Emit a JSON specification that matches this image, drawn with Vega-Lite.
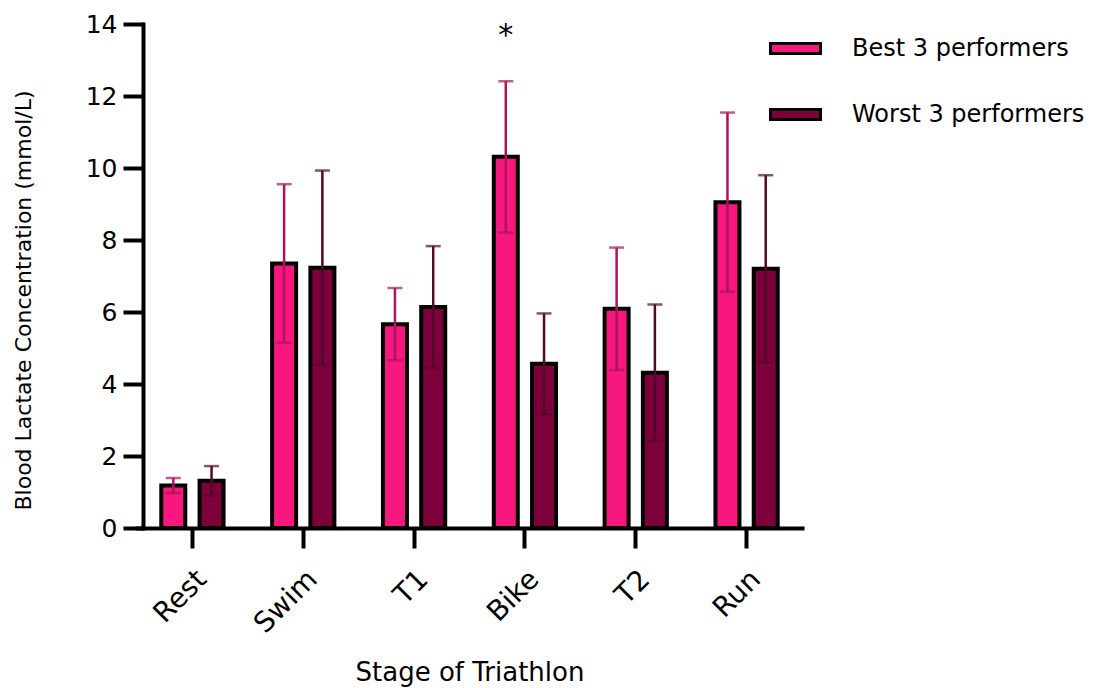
{
  "$schema": "https://vega.github.io/schema/vega-lite/v6.json",
  "autosize": {"type": "none"},
  "width": 655,
  "height": 504,
  "padding": {"left": 143, "top": 24, "right": 296, "bottom": 160},
  "background": "white",
  "config": {
    "font": "DejaVu Sans",
    "view": {"stroke": null},
    "axis": {
      "domainColor": "black",
      "domainWidth": 4,
      "domainCap": "square",
      "tickColor": "black",
      "tickWidth": 4,
      "tickSize": 20,
      "labelColor": "black",
      "labelFontSize": 25,
      "titleColor": "black",
      "titleFontWeight": "normal",
      "grid": false
    }
  },
  "datasets": {
    "lactate": [
      {"stage": "Rest", "group": "Best 3 performers", "mean": 1.18, "lo": 0.97, "hi": 1.39},
      {"stage": "Rest", "group": "Worst 3 performers", "mean": 1.31, "lo": 0.91, "hi": 1.72},
      {"stage": "Swim", "group": "Best 3 performers", "mean": 7.35, "lo": 5.15, "hi": 9.55},
      {"stage": "Swim", "group": "Worst 3 performers", "mean": 7.23, "lo": 4.54, "hi": 9.93},
      {"stage": "T1", "group": "Best 3 performers", "mean": 5.66, "lo": 4.66, "hi": 6.67},
      {"stage": "T1", "group": "Worst 3 performers", "mean": 6.14, "lo": 4.44, "hi": 7.83},
      {"stage": "Bike", "group": "Best 3 performers", "mean": 10.31, "lo": 8.21, "hi": 12.41},
      {"stage": "Bike", "group": "Worst 3 performers", "mean": 4.56, "lo": 3.16, "hi": 5.96},
      {"stage": "T2", "group": "Best 3 performers", "mean": 6.09, "lo": 4.39, "hi": 7.79},
      {"stage": "T2", "group": "Worst 3 performers", "mean": 4.31, "lo": 2.42, "hi": 6.21},
      {"stage": "Run", "group": "Best 3 performers", "mean": 9.05, "lo": 6.56, "hi": 11.54},
      {"stage": "Run", "group": "Worst 3 performers", "mean": 7.2, "lo": 4.6, "hi": 9.8}
    ],
    "significance": [
      {"stage": "Bike", "group": "Best 3 performers", "level": 13.42, "label": "*"}
    ]
  },
  "layer": [
    {
      "data": {"name": "lactate"},
      "mark": {"type": "bar", "width": 24, "stroke": "black", "strokeWidth": 4},
      "encoding": {
        "x": {
          "field": "stage",
          "type": "nominal",
          "sort": ["Rest", "Swim", "T1", "Bike", "T2", "Run"],
          "scale": {"range": [-6, 659], "paddingInner": 0, "paddingOuter": 0},
          "axis": {
            "title": "Stage of Triathlon",
            "titleFontSize": 26,
            "titleY": 144,
            "titleBaseline": "middle",
            "labelAngle": -45,
            "labelFontSize": 28,
            "labelPadding": 17
          }
        },
        "xOffset": {
          "field": "group",
          "type": "nominal",
          "scale": {
            "domain": ["Best 3 performers", "Worst 3 performers"],
            "paddingInner": 0.368,
            "paddingOuter": 0.632
          }
        },
        "y": {
          "field": "mean",
          "type": "quantitative",
          "scale": {"domain": [0, 14], "nice": false},
          "axis": {
            "title": "Blood Lactate Concentration (mmol/L)",
            "titleFontSize": 22,
            "titleAngle": -90,
            "titleAlign": "center",
            "titleBaseline": "middle",
            "titleX": -120,
            "titleY": 276,
            "values": [0, 2, 4, 6, 8, 10, 12, 14],
            "labelPadding": 6
          }
        },
        "fill": {
          "field": "group",
          "type": "nominal",
          "scale": {
            "domain": ["Best 3 performers", "Worst 3 performers"],
            "range": ["#F7177F", "#7D003C"]
          },
          "legend": {
            "orient": "none",
            "legendX": 626,
            "legendY": -2,
            "title": null,
            "symbolType": "M-1,-0.2H1V0.2H-1Z",
            "symbolSize": 2500,
            "symbolStrokeColor": "black",
            "symbolStrokeWidth": 3,
            "symbolOpacity": 1,
            "labelFontSize": 24,
            "labelColor": "black",
            "labelLimit": 400,
            "labelOffset": 30,
            "rowPadding": 27
          }
        }
      }
    },
    {
      "data": {"name": "lactate"},
      "transform": [{"filter": "datum.group === 'Best 3 performers'"}],
      "encoding": {
        "x": {"field": "stage", "type": "nominal", "sort": ["Rest", "Swim", "T1", "Bike", "T2", "Run"]},
        "xOffset": {"field": "group", "type": "nominal"}
      },
      "layer": [
        {
          "mark": {"type": "rule", "strokeWidth": 2.5, "color": "#AC145C"},
          "encoding": {"y": {"field": "lo", "type": "quantitative"}, "y2": {"field": "hi"}}
        },
        {
          "mark": {"type": "tick", "size": 15, "thickness": 2.5, "color": "#AC145C"},
          "encoding": {"y": {"field": "hi", "type": "quantitative"}}
        },
        {
          "mark": {"type": "tick", "size": 15, "thickness": 2.5, "color": "#AC145C"},
          "encoding": {"y": {"field": "lo", "type": "quantitative"}}
        }
      ]
    },
    {
      "data": {"name": "lactate"},
      "transform": [{"filter": "datum.group === 'Worst 3 performers'"}],
      "encoding": {
        "x": {"field": "stage", "type": "nominal", "sort": ["Rest", "Swim", "T1", "Bike", "T2", "Run"]},
        "xOffset": {"field": "group", "type": "nominal"}
      },
      "layer": [
        {
          "mark": {"type": "rule", "strokeWidth": 2.5, "color": "#520A2A"},
          "encoding": {"y": {"field": "lo", "type": "quantitative"}, "y2": {"field": "hi"}}
        },
        {
          "mark": {"type": "tick", "size": 15, "thickness": 2.5, "color": "#520A2A"},
          "encoding": {"y": {"field": "hi", "type": "quantitative"}}
        },
        {
          "mark": {"type": "tick", "size": 15, "thickness": 2.5, "color": "#520A2A"},
          "encoding": {"y": {"field": "lo", "type": "quantitative"}}
        }
      ]
    },
    {
      "data": {"name": "significance"},
      "mark": {"type": "text", "fontSize": 30, "align": "center", "baseline": "alphabetic", "color": "black"},
      "encoding": {
        "x": {"field": "stage", "type": "nominal", "sort": ["Rest", "Swim", "T1", "Bike", "T2", "Run"]},
        "xOffset": {"field": "group", "type": "nominal"},
        "y": {"field": "level", "type": "quantitative"},
        "text": {"field": "label"}
      }
    }
  ]
}
